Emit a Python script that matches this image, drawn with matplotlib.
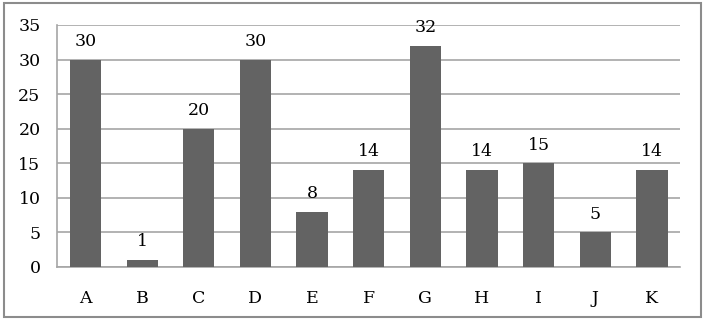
import matplotlib
matplotlib.use("AGG")
import matplotlib.pyplot as plt
from matplotlib.patches import Rectangle

categories = ["A", "B", "C", "D", "E", "F", "G", "H", "I", "J", "K"]
values = [30, 1, 20, 30, 8, 14, 32, 14, 15, 5, 14]
yticks = [0, 5, 10, 15, 20, 25, 30, 35]

plt.rcParams['font.family'] = ['DejaVu Serif']
plt.rcParams['font.size'] = 12.5

fig = plt.figure(figsize=(7.05, 3.2), dpi=100)
ax = fig.add_axes([0.081, 0.166, 0.884, 0.756])

x = range(len(categories))
bars = ax.bar(x, values, width=0.55, color='#636363', zorder=3)
for xi, v in zip(x, values):
    ax.text(xi, v + 1.4, str(v), ha='center', va='bottom', color='black')

ax.set_xlim(-0.5, len(categories) - 0.5)
ax.set_ylim(0, 35)
ax.set_yticks(yticks)
ax.set_xticks(list(x))
ax.set_xticklabels(categories)
ax.yaxis.grid(True, color='#a6a6a6', linewidth=1.2, zorder=0)
for s in ['top', 'right']:
    ax.spines[s].set_visible(False)
ax.spines['left'].set_color('#a6a6a6')
ax.spines['bottom'].set_color('#a6a6a6')
ax.spines['left'].set_linewidth(1.2)
ax.spines['bottom'].set_linewidth(1.2)
ax.tick_params(length=0, pad=12)
ax.tick_params(axis='x', pad=17)

fig.patches.append(Rectangle((0.005, 0.01), 0.99, 0.98, transform=fig.transFigure,
                             fill=False, edgecolor='#8c8c8c', linewidth=1.5))

plt.savefig('out.png', dpi=100)
